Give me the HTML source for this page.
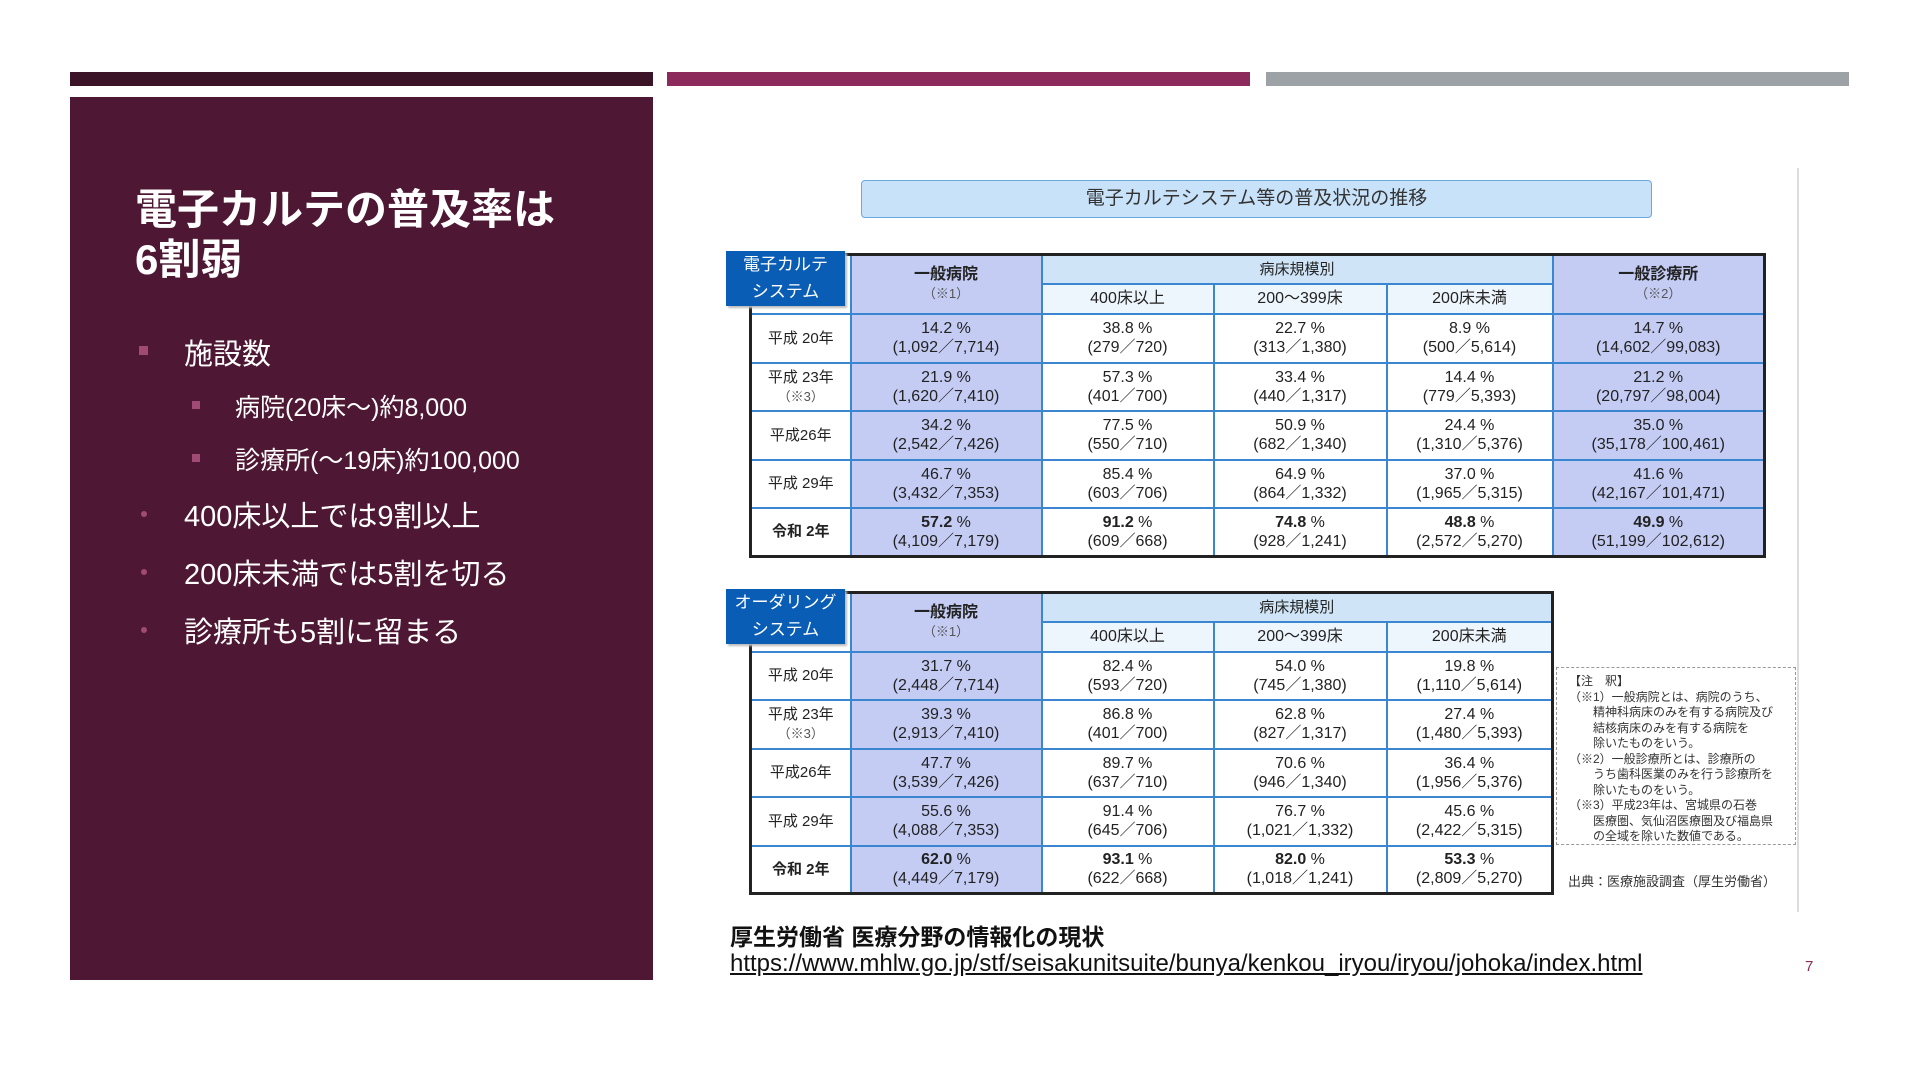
<!DOCTYPE html>
<html><head><meta charset="utf-8">
<style>
*{margin:0;padding:0;box-sizing:border-box}
body{width:1920px;height:1080px;background:#fff;position:relative;overflow:hidden;font-family:"Liberation Sans","Noto Sans CJK JP",sans-serif}
.abs{position:absolute}
.bar{position:absolute;top:72px;height:14px}
#panel{left:70px;top:97px;width:583px;height:883px;background:#4e1733;color:#fff}
.t{position:absolute;white-space:nowrap}
.sq{position:absolute;width:9px;height:9px;background:#a14a73}
.dot{position:absolute;width:6px;height:6px;border-radius:50%;background:#a14a73}
table{position:absolute;border-collapse:collapse;table-layout:fixed;font-size:16px;color:#222;text-align:center}
td{border:2px solid #3a86d0;line-height:19px;padding:0;vertical-align:middle}
td.d{border-left:1px dashed #5a9ee0;border-right:1px dashed #5a9ee0}
.b{background:#c4ccf4}
.h{background:#cfe5f7;font-size:15px}
.sh{background:#eef6fd;font-size:16px}
.rl{background:#fff;font-size:15px}
.lab{position:absolute;background:#0a5db5;color:#fff;font-size:17px;text-align:center;line-height:27px;box-shadow:2px 2px 2px #bbb}
.small{font-size:13px;color:#555}
.bold{font-weight:bold}
</style></head><body>
<div class="bar" style="left:70px;width:583px;background:#3b1428"></div>
<div class="bar" style="left:667px;width:583px;background:#8c2a5b"></div>
<div class="bar" style="left:1266px;width:583px;background:#9da2a7"></div>

<div id="panel" class="abs">
 <div class="t" style="left:65px;top:88px;font-size:42px;font-weight:bold;line-height:50px">電子カルテの普及率は<br>6割弱</div>
 <div class="sq" style="left:69px;top:249px"></div>
 <div class="t" style="left:114px;top:234px;font-size:29px">施設数</div>
 <div class="sq" style="left:122px;top:304px;width:8px;height:8px"></div>
 <div class="t" style="left:165px;top:291px;font-size:25px">病院(20床〜)約8,000</div>
 <div class="sq" style="left:122px;top:357px;width:8px;height:8px"></div>
 <div class="t" style="left:165px;top:344px;font-size:25px">診療所(〜19床)約100,000</div>
 <div class="dot" style="left:71px;top:414px"></div>
 <div class="t" style="left:114px;top:396px;font-size:29px">400床以上では9割以上</div>
 <div class="dot" style="left:71px;top:472px"></div>
 <div class="t" style="left:114px;top:454px;font-size:29px">200床未満では5割を切る</div>
 <div class="dot" style="left:71px;top:530px"></div>
 <div class="t" style="left:114px;top:512px;font-size:29px">診療所も5割に留まる</div>
</div>

<div class="abs" style="left:1797px;top:168px;width:2px;height:744px;background:#ddd"></div>
<div class="abs" style="left:861px;top:180px;width:791px;height:38px;background:#c8e2fa;border:1px solid #6aa8e0;border-radius:4px;text-align:center;font-size:19px;line-height:36px;color:#333">電子カルテシステム等の普及状況の推移</div>

<table style="left:749px;top:253px;width:1014px;border:3px solid #222">
<colgroup><col style="width:100px"><col style="width:191px"><col style="width:172px"><col style="width:173px"><col style="width:166px"><col style="width:212px"></colgroup>
<tr style="height:29px"><td rowspan="2" class="rl" style="border-top:none;border-left:none"></td><td rowspan="2" class="b"><span class="bold" style="font-size:16px">一般病院</span><br><span class="small">（※1）</span></td><td colspan="3" class="h">病床規模別</td><td rowspan="2" class="b"><span class="bold">一般診療所</span><br><span class="small">（※2）</span></td></tr>
<tr style="height:30px"><td class="sh">400床以上</td><td class="sh d">200〜399床</td><td class="sh">200床未満</td></tr>
<tr style="height:49px"><td class="rl">平成 20年</td><td class="b">14.2 %<br>(1,092／7,714)</td><td>38.8 %<br>(279／720)</td><td class="d">22.7 %<br>(313／1,380)</td><td>8.9 %<br>(500／5,614)</td><td class="b">14.7 %<br>(14,602／99,083)</td></tr>
<tr style="height:48px"><td class="rl">平成 23年<br><span class="small">（※3）</span></td><td class="b">21.9 %<br>(1,620／7,410)</td><td>57.3 %<br>(401／700)</td><td class="d">33.4 %<br>(440／1,317)</td><td>14.4 %<br>(779／5,393)</td><td class="b">21.2 %<br>(20,797／98,004)</td></tr>
<tr style="height:49px"><td class="rl">平成26年</td><td class="b">34.2 %<br>(2,542／7,426)</td><td>77.5 %<br>(550／710)</td><td class="d">50.9 %<br>(682／1,340)</td><td>24.4 %<br>(1,310／5,376)</td><td class="b">35.0 %<br>(35,178／100,461)</td></tr>
<tr style="height:48px"><td class="rl">平成 29年</td><td class="b">46.7 %<br>(3,432／7,353)</td><td>85.4 %<br>(603／706)</td><td class="d">64.9 %<br>(864／1,332)</td><td>37.0 %<br>(1,965／5,315)</td><td class="b">41.6 %<br>(42,167／101,471)</td></tr>
<tr style="height:49px"><td class="rl bold">令和 2年</td><td class="b"><b>57.2</b> %<br>(4,109／7,179)</td><td><b>91.2</b> %<br>(609／668)</td><td class="d"><b>74.8</b> %<br>(928／1,241)</td><td><b>48.8</b> %<br>(2,572／5,270)</td><td class="b"><b>49.9</b> %<br>(51,199／102,612)</td></tr>
</table>
<div class="lab" style="left:726px;top:251px;width:119px;height:55px">電子カルテ<br>システム</div>

<table style="left:749px;top:591px;width:802px;border:3px solid #222">
<colgroup><col style="width:100px"><col style="width:191px"><col style="width:172px"><col style="width:173px"><col style="width:166px"></colgroup>
<tr style="height:29px"><td rowspan="2" class="rl" style="border-top:none;border-left:none"></td><td rowspan="2" class="b"><span class="bold">一般病院</span><br><span class="small">（※1）</span></td><td colspan="3" class="h">病床規模別</td></tr>
<tr style="height:30px"><td class="sh">400床以上</td><td class="sh d">200〜399床</td><td class="sh">200床未満</td></tr>
<tr style="height:48px"><td class="rl">平成 20年</td><td class="b">31.7 %<br>(2,448／7,714)</td><td>82.4 %<br>(593／720)</td><td class="d">54.0 %<br>(745／1,380)</td><td>19.8 %<br>(1,110／5,614)</td></tr>
<tr style="height:49px"><td class="rl">平成 23年<br><span class="small">（※3）</span></td><td class="b">39.3 %<br>(2,913／7,410)</td><td>86.8 %<br>(401／700)</td><td class="d">62.8 %<br>(827／1,317)</td><td>27.4 %<br>(1,480／5,393)</td></tr>
<tr style="height:48px"><td class="rl">平成26年</td><td class="b">47.7 %<br>(3,539／7,426)</td><td>89.7 %<br>(637／710)</td><td class="d">70.6 %<br>(946／1,340)</td><td>36.4 %<br>(1,956／5,376)</td></tr>
<tr style="height:49px"><td class="rl">平成 29年</td><td class="b">55.6 %<br>(4,088／7,353)</td><td>91.4 %<br>(645／706)</td><td class="d">76.7 %<br>(1,021／1,332)</td><td>45.6 %<br>(2,422／5,315)</td></tr>
<tr style="height:48px"><td class="rl bold">令和 2年</td><td class="b"><b>62.0</b> %<br>(4,449／7,179)</td><td><b>93.1</b> %<br>(622／668)</td><td class="d"><b>82.0</b> %<br>(1,018／1,241)</td><td><b>53.3</b> %<br>(2,809／5,270)</td></tr>
</table>
<div class="lab" style="left:726px;top:589px;width:119px;height:55px">オーダリング<br>システム</div>

<div class="abs" style="left:1556px;top:667px;width:240px;height:178px;border:1px dashed #999;font-size:12px;line-height:15.5px;color:#333;padding:6px 6px 0 12px">【注　釈】<br>（※1）一般病院とは、病院のうち、<br>　　精神科病床のみを有する病院及び<br>　　結核病床のみを有する病院を<br>　　除いたものをいう。<br>（※2）一般診療所とは、診療所の<br>　　うち歯科医業のみを行う診療所を<br>　　除いたものをいう。<br>（※3）平成23年は、宮城県の石巻<br>　　医療圏、気仙沼医療圏及び福島県<br>　　の全域を除いた数値である。</div>
<div class="t" style="left:1568px;top:871px;font-size:13px;color:#333">出典：医療施設調査（厚生労働省）</div>

<div class="t" style="left:730px;top:918px;font-size:23px;font-weight:bold;color:#111">厚生労働省 医療分野の情報化の現状</div>
<a class="t" href="#" style="left:730px;top:950px;font-size:24px;color:#111;text-decoration:underline">https://www.mhlw.go.jp/stf/seisakunitsuite/bunya/kenkou_iryou/iryou/johoka/index.html</a>
<div class="t" style="left:1805px;top:958px;font-size:15px;color:#8c2a5b">7</div>
</body></html>
